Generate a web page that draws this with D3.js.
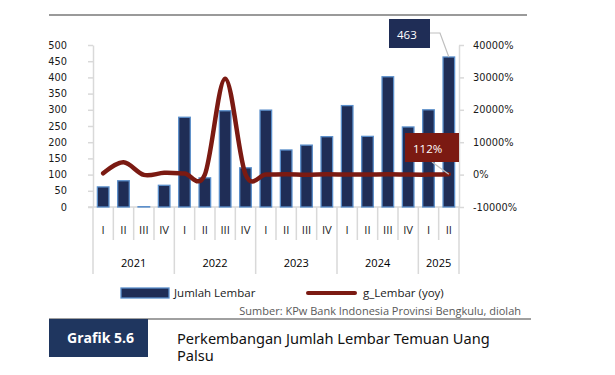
<!DOCTYPE html>
<html>
<head>
<meta charset="UTF-8">
<script src="https://cdn.jsdelivr.net/npm/d3@7"></script>
<style>
  body { margin: 0; background: #fff; }
  svg { display: block; }
  .axis text { font-family: "DejaVu Sans", sans-serif; font-size: 9.8px; fill: #1a1a1a; }
  .cat text { font-family: "Open Sans", sans-serif; font-size: 11.3px; fill: #262626; }
  .legend text { font-family: "Open Sans", sans-serif; font-size: 11.5px; fill: #1a1a1a; }
</style>
</head>
<body>
<div id="chart"></div>
<script>
// quarters and years
var quarters = ["I","II","III","IV","I","II","III","IV","I","II","III","IV","I","II","III","IV","I","II"];
var years = ["2021","2022","2023","2024","2025"];
var yearSpan = [4, 4, 4, 4, 2];

// Jumlah Lembar (left axis)
var lembar = [62, 81, 1, 67, 277, 90, 297, 121, 299, 176, 191, 217, 313, 218, 402, 247, 300, 463];
// g_Lembar yoy in % (right axis)
var gLembar = [400, 3800, -99, 550, 350, 11, 29600, 81, 8, 96, -36, 79, 5, 25, 110, 14, -4, 112];

var leftTicks = [0, 50, 100, 150, 200, 250, 300, 350, 400, 450, 500];
var rightTicks = [-10000, 0, 10000, 20000, 30000, 40000];

var W = 615, H = 375;
var pLeft = 93, pRight = 459, pTop = 45, pBottom = 207;
var navy = "#1f2d56", barEdge = "#5b8fcb", red = "#7b1a12", grid = "#d9d9d9";

var svg = d3.select("#chart").append("svg")
  .attr("width", W).attr("height", H);

// top rule
svg.append("line").attr("x1", 49).attr("x2", 527).attr("y1", 15).attr("y2", 15)
  .attr("stroke", "#9a9a9a").attr("stroke-width", 2);

var idx = d3.range(lembar.length);
var x = d3.scaleBand().domain(idx).range([pLeft, pRight])
  .paddingInner(0.43).paddingOuter(0.215);
var step = x.step();
var y = d3.scaleLinear().domain([0, 500]).range([pBottom, pTop]);
var y2 = d3.scaleLinear().domain([-10000, 40000]).range([pBottom, pTop]);

// left axis
var gl = svg.append("g").attr("class", "axis").attr("transform", "translate(" + pLeft + ",0)")
  .call(d3.axisLeft(y).tickValues(leftTicks).tickSize(5).tickSizeOuter(0).tickPadding(21));
gl.selectAll("line, path").attr("stroke", grid).attr("stroke-width", 1.5);

// right axis
var gr = svg.append("g").attr("class", "axis").attr("transform", "translate(" + pRight + ",0)")
  .call(d3.axisRight(y2).tickValues(rightTicks).tickSize(5).tickSizeOuter(0).tickPadding(9)
    .tickFormat(function(d) { return d + "%"; }));
gr.selectAll("line, path").attr("stroke", grid).attr("stroke-width", 1.5);

// baseline
svg.append("line").attr("x1", pLeft - 5).attr("x2", pRight).attr("y1", pBottom).attr("y2", pBottom)
  .attr("stroke", grid).attr("stroke-width", 1.5);

// category separators
var cat = svg.append("g").attr("class", "cat");
var yearStarts = [0];
yearSpan.forEach(function(s, i) { yearStarts.push(yearStarts[i] + s); });
d3.range(lembar.length + 1).forEach(function(i) {
  var xx = pLeft + i * step;
  var isYear = yearStarts.indexOf(i) >= 0;
  cat.append("line").attr("x1", xx).attr("x2", xx)
    .attr("y1", pBottom).attr("y2", isYear ? 274 : 240)
    .attr("stroke", grid).attr("stroke-width", 1.5);
});
cat.selectAll("text.q").data(quarters).enter().append("text")
  .attr("class", "q")
  .attr("x", function(d, i) { return x(i) + x.bandwidth() / 2; })
  .attr("y", 230).attr("dy", "0.35em").attr("text-anchor", "middle")
  .text(function(d) { return d; });
cat.selectAll("text.yr").data(years).enter().append("text")
  .attr("class", "yr")
  .attr("x", function(d, i) { return pLeft + (yearStarts[i] + yearSpan[i] / 2) * step; })
  .attr("y", 263).attr("dy", "0.35em").attr("text-anchor", "middle")
  .style("fill", "#000").style("font-size", "11px")
  .text(function(d) { return d; });

// bars
svg.append("g").selectAll("rect").data(lembar).enter().append("rect")
  .attr("x", function(d, i) { return x(i); })
  .attr("y", function(d) { return y(d); })
  .attr("width", x.bandwidth())
  .attr("height", function(d) { return pBottom - y(d); })
  .attr("fill", navy).attr("stroke", barEdge).attr("stroke-width", 1.3);

// yoy line
var line = d3.line()
  .x(function(d, i) { return x(i) + x.bandwidth() / 2; })
  .y(function(d) { return y2(d); })
  .curve(d3.curveCardinal.tension(0));
svg.append("path").datum(gLembar).attr("d", line)
  .attr("fill", "none").attr("stroke", red).attr("stroke-width", 4.5)
  .attr("stroke-linecap", "round");

// data labels
var last = lembar.length - 1;
var cxLast = x(last) + x.bandwidth() / 2;
svg.append("polyline")
  .attr("points", [[430, 33], [440, 33], [cxLast, y(lembar[last])]].join(" "))
  .attr("fill", "none").attr("stroke", "#bfbfbf").attr("stroke-width", 1.2);
svg.append("rect").attr("x", 389).attr("y", 19).attr("width", 41).attr("height", 29).attr("fill", navy);
svg.append("text").attr("x", 397).attr("y", 35).attr("dy", "0.35em")
  .style("font-family", "Open Sans, sans-serif").style("font-size", "11.5px").style("fill", "#fff")
  .text(lembar[last]);

svg.append("line").attr("x1", 432).attr("y1", 162).attr("x2", cxLast).attr("y2", y2(gLembar[last]))
  .attr("stroke", "#bfbfbf").attr("stroke-width", 1.2);
svg.append("rect").attr("x", 405).attr("y", 133).attr("width", 54).attr("height", 29).attr("fill", red);
svg.append("text").attr("x", 413).attr("y", 149).attr("dy", "0.35em")
  .style("font-family", "Open Sans, sans-serif").style("font-size", "11.5px").style("fill", "#fff")
  .text(gLembar[last] + "%");

// legend
var lg = svg.append("g").attr("class", "legend");
lg.append("rect").attr("x", 121).attr("y", 288).attr("width", 48).attr("height", 10)
  .attr("fill", navy).attr("stroke", barEdge).attr("stroke-width", 1.3);
lg.append("text").attr("x", 174).attr("y", 293).attr("dy", "0.35em").text("Jumlah Lembar");
lg.append("line").attr("x1", 308).attr("x2", 355).attr("y1", 293).attr("y2", 293)
  .attr("stroke", red).attr("stroke-width", 4).attr("stroke-linecap", "round");
lg.append("text").attr("x", 363).attr("y", 293).attr("dy", "0.35em").text("g_Lembar (yoy)");

// source + rule
svg.append("text").attr("x", 521).attr("y", 311).attr("dy", "0.35em").attr("text-anchor", "end")
  .style("font-family", "Open Sans, sans-serif").style("font-size", "11px").style("fill", "#595959")
  .text("Sumber: KPw Bank Indonesia Provinsi Bengkulu, diolah");
svg.append("line").attr("x1", 49).attr("x2", 531).attr("y1", 319).attr("y2", 319)
  .attr("stroke", "#808080").attr("stroke-width", 1.5);

// caption
svg.append("rect").attr("x", 49).attr("y", 319).attr("width", 99).attr("height", 38).attr("fill", "#1f365f");
svg.append("text").attr("x", 67).attr("y", 338).attr("dy", "0.35em")
  .style("font-family", "Open Sans, sans-serif").style("font-size", "14px").style("font-weight", "bold")
  .style("fill", "#fff").text("Grafik 5.6");
var cap = svg.append("text").style("font-family", "Noto Sans, sans-serif").style("font-size", "14.6px").style("fill", "#111");
cap.append("tspan").attr("x", 177).attr("y", 344).text("Perkembangan Jumlah Lembar Temuan Uang");
cap.append("tspan").attr("x", 177).attr("y", 360.5).text("Palsu");
</script>
</body>
</html>
